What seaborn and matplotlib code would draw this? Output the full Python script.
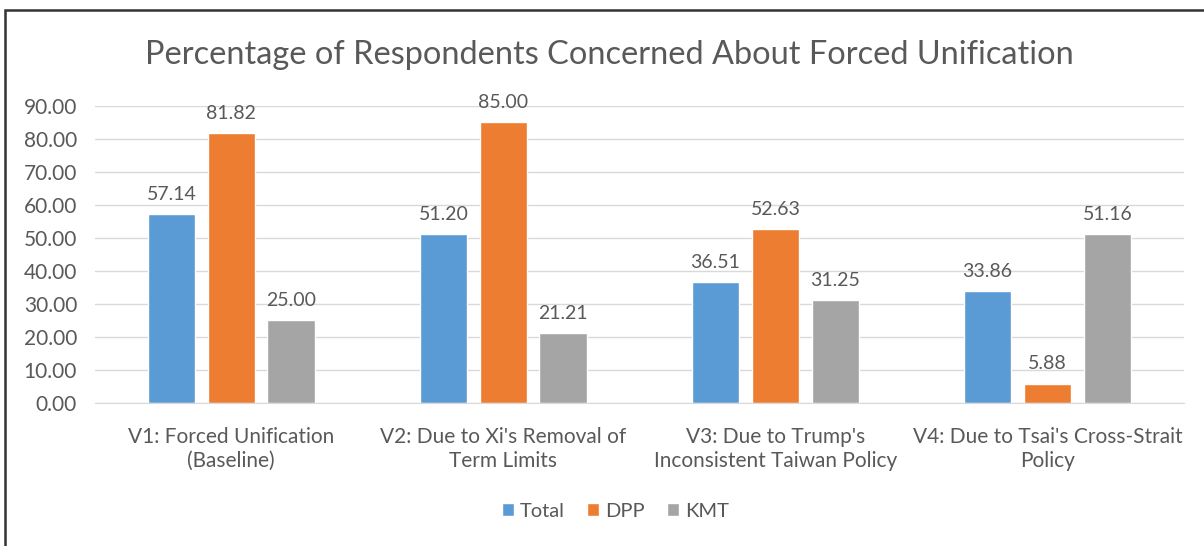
import seaborn as sns
import matplotlib.pyplot as plt
import matplotlib.patches as mpatches
import pandas as pd

categories = ["V1: Forced Unification\n(Baseline)",
              "V2: Due to Xi's Removal of\nTerm Limits",
              "V3: Due to Trump's\nInconsistent Taiwan Policy",
              "V4: Due to Tsai's Cross-Strait\nPolicy"]
groups = ["Total", "DPP", "KMT"]
total = [57.14, 51.20, 36.51, 33.86]
dpp = [81.82, 85.00, 52.63, 5.88]
kmt = [25.00, 21.21, 31.25, 51.16]
colors = ["#5B9BD5", "#ED7D31", "#A5A5A5"]

df = pd.DataFrame({
    "cat": categories * 3,
    "group": [g for g in groups for _ in categories],
    "value": total + dpp + kmt,
})

sns.set_style("white")
plt.rcParams['font.family'] = ['Lato', 'DejaVu Sans']
text_col = "#595959"

fig = plt.figure(figsize=(12.04, 5.46), dpi=100)
ax = fig.add_axes([0.079, 0.262, 0.904, 0.544])

sns.barplot(data=df, x="cat", y="value", hue="group", palette=colors,
            width=0.66, gap=0.21, saturation=1, ax=ax, legend=True)

for c in ax.containers:
    ax.bar_label(c, fmt="%.2f", padding=8, fontsize=14, color=text_col)

ax.set_ylim(0, 90)
ax.set_yticks(range(0, 91, 10))
ax.set_yticklabels([f"{v:.2f}" for v in range(0, 91, 10)])
ax.yaxis.grid(True, color="#D9D9D9", lw=1)
ax.set_axisbelow(True)
for s in ["top", "right", "left"]:
    ax.spines[s].set_visible(False)
ax.spines["bottom"].set_color("#D9D9D9")
ax.tick_params(axis="both", length=0, labelsize=15, colors=text_col)
ax.tick_params(axis="y", pad=13)
ax.tick_params(axis="x", pad=17)
for lbl in ax.get_xticklabels():
    lbl.set_linespacing(1.3)
ax.set_xlabel("")
ax.set_ylabel("")

ax.legend(loc="upper center", bbox_to_anchor=(0.478, -0.275), ncol=3,
          frameon=False, fontsize=14.5, handlelength=0.6, handleheight=0.6,
          handletextpad=0.3, columnspacing=1.1, labelcolor=text_col)

fig.text(0.506, 0.899, "Percentage of Respondents Concerned About Forced Unification",
         ha="center", va="center", fontsize=23.4, color=text_col)

fig.add_artist(mpatches.Rectangle((5 / 1204, -0.1), 1.2, 1.1 - 10 / 546,
                                  transform=fig.transFigure, fill=False,
                                  edgecolor="#333333", lw=1.8))

fig.savefig("out.png", dpi=100)
